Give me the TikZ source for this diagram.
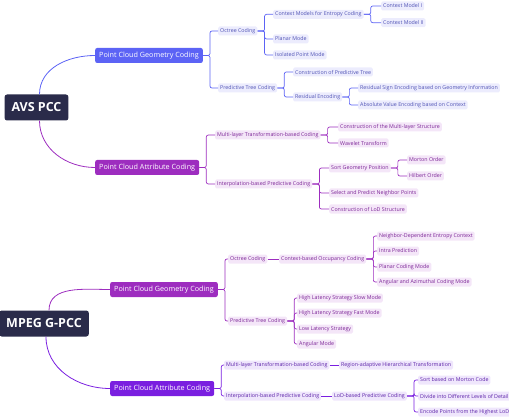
\documentclass[tikz,border=0pt]{standalone}
\usepackage{fontspec}
\setmainfont{Open Sans}
\definecolor{rootcol}{HTML}{2A2B4A}
\definecolor{bluecol}{HTML}{5C63F5}
\definecolor{bluefill}{HTML}{ECECFD}
\definecolor{bluetext}{HTML}{4F52B5}
\definecolor{purpcol}{HTML}{9D2DBF}
\definecolor{purpfill}{HTML}{F4E6F8}
\definecolor{purptext}{HTML}{7B2496}
\definecolor{violcol}{HTML}{7A1FE0}
\definecolor{violfill}{HTML}{EFE6FC}
\definecolor{violtext}{HTML}{5B21A8}
\begin{document}
\begin{tikzpicture}[x=1pt, y=-1pt,
    root/.style={fill=rootcol, text=white, rounded corners=2.5pt, font=\fontsize{12.5}{15}\selectfont\bfseries, inner xsep=7pt, minimum height=26pt},
    lone/.style={text=white, rounded corners=2pt, anchor=west, font=\fontsize{7.2}{9}\selectfont, inner xsep=4pt, minimum height=15pt},
    leaf/.style={rounded corners=1.5pt, anchor=west, font=\fontsize{5.3}{6}\selectfont, inner xsep=2pt, inner ysep=0pt, minimum height=9pt},
    bleaf/.style={leaf, fill=bluefill, text=bluetext},
    pleaf/.style={leaf, fill=purpfill, text=purptext},
    vleaf/.style={leaf, fill=violfill, text=violtext},
    link/.style={rounded corners=2pt, line width=0.7pt}]
  \useasboundingbox (0,0) rectangle (509,417);

  % AVS PCC
  \node[root] (avs) at (36.5,107.5) {AVS PCC};
  \node[lone, fill=bluecol] (avsgeo) at (95,55.5) {Point Cloud Geometry Coding};
  \node[lone, fill=purpcol] (avsattr) at (95,167.5) {Point Cloud Attribute Coding};
  \draw[bluecol, line width=0.8pt] ([xshift=3pt]avs.north) to[out=90, in=180] (avsgeo.west);
  \draw[purpcol, line width=0.8pt] ([xshift=3pt]avs.south) to[out=-90, in=180] (avsattr.west);

  % AVS geometry
  \node[bleaf] (avsoct) at (218,31) {Octree Coding};
  \node[bleaf] (avsctx) at (273,14.3) {Context Models for Entropy Coding};
  \node[bleaf] (avscmone) at (381,6) {Context Model I};
  \node[bleaf] (avscmtwo) at (381,22.7) {Context Model II};
  \node[bleaf] (avsplan) at (273,39) {Planar Mode};
  \node[bleaf] (avsiso) at (273,55) {Isolated Point Mode};
  \node[bleaf] (avspred) at (218,88) {Predictive Tree Coding};
  \node[bleaf] (avscons) at (293,72) {Construction of Predictive Tree};
  \node[bleaf] (avsres) at (293,97) {Residual Encoding};
  \node[bleaf] (avssign) at (358,88) {Residual Sign Encoding based on Geometry Information};
  \node[bleaf] (avsabs) at (358,105) {Absolute Value Encoding based on Context};

  % AVS attribute
  \node[pleaf] (avsml) at (215,135) {Multi-layer Transformation-based Coding};
  \node[pleaf] (avsmls) at (338,127) {Construction of the Multi-layer Structure};
  \node[pleaf] (avswav) at (338,143) {Wavelet Transform};
  \node[pleaf] (avsint) at (215,184) {Interpolation-based Predictive Coding};
  \node[pleaf] (avssort) at (329,168) {Sort Geometry Position};
  \node[pleaf] (avsmort) at (407,160) {Morton Order};
  \node[pleaf] (avshilb) at (407,176) {Hilbert Order};
  \node[pleaf] (avssel) at (329,193) {Select and Predict Neighbor Points};
  \node[pleaf] (avslod) at (329,209) {Construction of LoD Structure};

  % MPEG G-PCC
  \node[root] (mpeg) at (44,323.5) {MPEG G-PCC};
  \node[lone, fill=purpcol] (mpeggeo) at (110,289.5) {Point Cloud Geometry Coding};
  \node[lone, fill=violcol] (mpegattr) at (110,388.5) {Point Cloud Attribute Coding};
  \draw[purpcol, line width=0.8pt] ([xshift=5pt]mpeg.north) to[out=90, in=180] (mpeggeo.west);
  \draw[violcol, line width=0.8pt] ([xshift=2pt]mpeg.south) to[out=-90, in=180] (mpegattr.west);

  % MPEG geometry
  \node[pleaf] (mpoct) at (228,259) {Octree Coding};
  \node[pleaf] (mpctx) at (279,259) {Context-based Occupancy Coding};
  \node[pleaf] (mpnei) at (377,236) {Neighbor-Dependent Entropy Context};
  \node[pleaf] (mpintra) at (377,251) {Intra Prediction};
  \node[pleaf] (mpplan) at (377,267) {Planar Coding Mode};
  \node[pleaf] (mpang) at (377,282) {Angular and Azimuthal Coding Mode};
  \node[pleaf] (mppred) at (228,321) {Predictive Tree Coding};
  \node[pleaf] (mpslow) at (297,298) {High Latency Strategy Slow Mode};
  \node[pleaf] (mpfast) at (297,313) {High Latency Strategy Fast Mode};
  \node[pleaf] (mplow) at (297,329) {Low Latency Strategy};
  \node[pleaf] (mpangm) at (297,344) {Angular Mode};

  % MPEG attribute
  \node[vleaf] (mpml) at (224,365) {Multi-layer Transformation-based Coding};
  \node[vleaf] (mpraht) at (339,365) {Region-adaptive Hierarchical Transformation};
  \node[vleaf] (mpint) at (224,396) {Interpolation-based Predictive Coding};
  \node[vleaf] (mplodp) at (332,396) {LoD-based Predictive Coding};
  \node[vleaf] (mpsort) at (418,380) {Sort based on Morton Code};
  \node[vleaf] (mpdiv) at (418,396) {Divide into Different Levels of Detail};
  \node[vleaf] (mpenc) at (418,412) {Encode Points from the Highest LoD};

  % Connectors
  \foreach \p/\c in {avsgeo/avsoct, avsgeo/avspred, avsoct/avsctx, avsoct/avsplan, avsoct/avsiso,
      avsctx/avscmone, avsctx/avscmtwo, avspred/avscons, avspred/avsres, avsres/avssign, avsres/avsabs}
    \draw[link, bluecol] (\p.east) -- ++(7pt,0) |- (\c.west);
  \foreach \p/\c in {avsattr/avsml, avsattr/avsint, avsml/avsmls, avsml/avswav, avsint/avssort,
      avsint/avssel, avsint/avslod, avssort/avsmort, avssort/avshilb,
      mpeggeo/mpoct, mpeggeo/mppred, mpctx/mpnei, mpctx/mpintra, mpctx/mpplan, mpctx/mpang,
      mppred/mpslow, mppred/mpfast, mppred/mplow, mppred/mpangm}
    \draw[link, purpcol] (\p.east) -- ++(7pt,0) |- (\c.west);
  \draw[link, purpcol] (mpoct) -- (mpctx);
  \foreach \p/\c in {mpegattr/mpml, mpegattr/mpint, mplodp/mpsort, mplodp/mpdiv, mplodp/mpenc}
    \draw[link, violcol] (\p.east) -- ++(7pt,0) |- (\c.west);
  \draw[link, violcol] (mpml) -- (mpraht);
  \draw[link, violcol] (mpint) -- (mplodp);
\end{tikzpicture}
\end{document}
